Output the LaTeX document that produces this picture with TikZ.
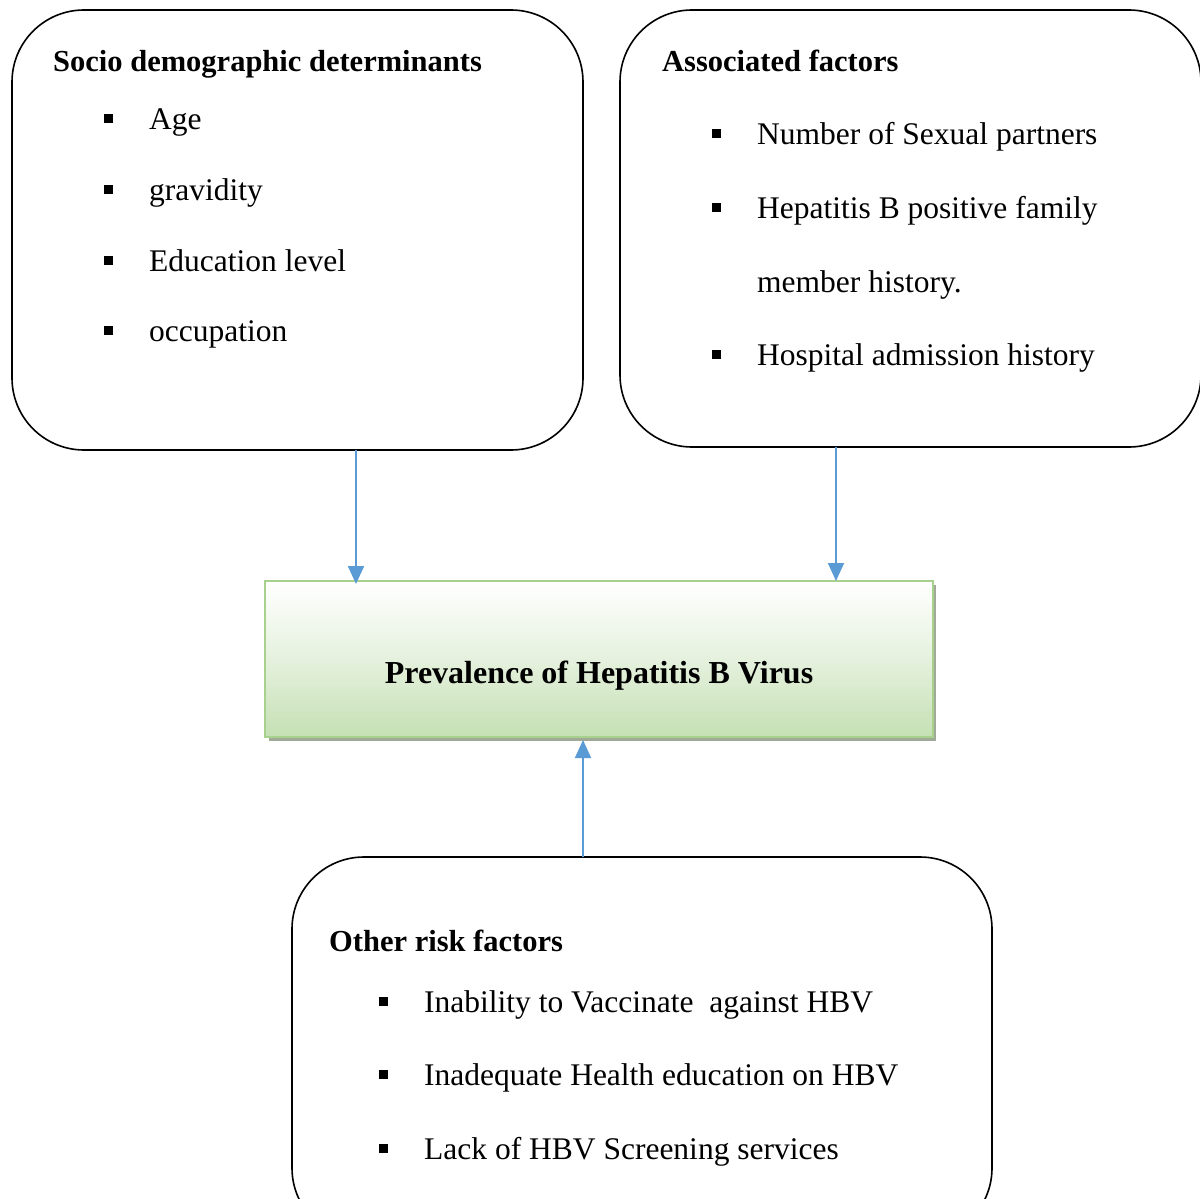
\documentclass[tikz,border=0pt]{standalone}
\usepackage{fontspec}
\setmainfont{Liberation Serif}
\definecolor{arrowblue}{RGB}{91, 155, 213}
\definecolor{hbvgreen}{RGB}{197, 224, 180}
\definecolor{hbvedge}{RGB}{169, 209, 142}
\definecolor{shadowgrey}{RGB}{160, 170, 150}
\usetikzlibrary{arrows.meta, positioning, calc}
\tikzset{
  factorbox/.style={draw=black, line width=1.6pt, rounded corners=72pt},
  flow/.style={draw=arrowblue, line width=1.8pt, -{Triangle[length=18pt, width=16pt]}},
  itemtext/.style={anchor=base west, inner sep=0pt, font=\fontsize{31.5}{36}\selectfont},
  titletext/.style={anchor=base west, inner sep=0pt, font=\fontsize{30.5}{36}\selectfont\bfseries},
  bulletmark/.style={fill=black, minimum size=9pt, inner sep=0pt}
}
\begin{document}
\begin{tikzpicture}[x=1pt, y=-1pt]
  \useasboundingbox (0,0) rectangle (1200,1199);
  \clip (0,0) rectangle (1200,1199);

  % Socio demographic box
  \draw[factorbox] (12,10) rectangle (583,450);
  \node[titletext] (sociotitle) at (53,71) {Socio demographic determinants};
  \foreach \y/\txt [count=\i] in {129/Age, 200/gravidity, 271/Education level, 341/occupation} {
    \node[bulletmark] (sb\i) at (108,\y-11) {};
    \node[itemtext] (st\i) at (149,\y) {\txt};
  }

  % Associated factors box
  \draw[factorbox] (620,10) rectangle (1201,447);
  \node[titletext] (assoctitle) at (662,71) {Associated factors};
  \foreach \y/\txt [count=\i] in {144/Number of Sexual partners, 218/Hepatitis B positive family, 365/Hospital admission history} {
    \node[bulletmark] (ab\i) at (716,\y-11) {};
    \node[itemtext] (at\i) at (757,\y) {\txt};
  }
  \node[itemtext] (at4) at (757,292) {member history.};

  % Other risk factors box
  \draw[factorbox] (292,857) rectangle (992,1240);
  \node[titletext] (othertitle) at (329,951) {Other risk factors};
  \foreach \y/\txt [count=\i] in {1012/Inability to Vaccinate\ \ against HBV, 1085/Inadequate Health education on HBV, 1159/Lack of HBV Screening services} {
    \node[bulletmark] (ob\i) at (383,\y-11) {};
    \node[itemtext] (ot\i) at (424,\y) {\txt};
  }

  % Prevalence box
  \fill[shadowgrey] (269,585) rectangle (936,741);
  \shade[top color=white, bottom color=hbvgreen, middle color=hbvgreen!45] (265,581) rectangle (933,737);
  \draw[hbvedge, line width=2.2pt] (265,581) rectangle (933,737);
  \node[font=\fontsize{32}{36}\selectfont\bfseries, minimum width=668pt, minimum height=156pt] (hbv) at (599,676) {Prevalence of Hepatitis B Virus};

  % Arrows
  \coordinate (socioout) at (356,450);
  \coordinate (assocout) at (836,447);
  \coordinate (otherout) at (583,857);
  \draw[flow] (socioout) -- (socioout |- 0,584);
  \draw[flow] (assocout) -- (assocout |- 0,581);
  \draw[flow] (otherout) -- (otherout |- 0,740);
\end{tikzpicture}
\end{document}
